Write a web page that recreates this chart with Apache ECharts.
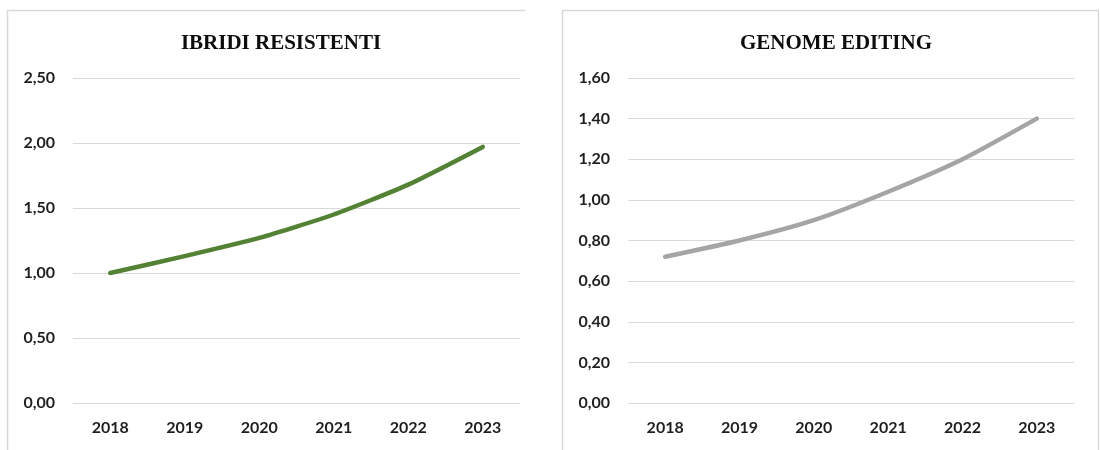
<!DOCTYPE html>
<html>
<head>
<meta charset="utf-8">
<script src="https://cdn.jsdelivr.net/npm/echarts@6/dist/echarts.min.js"></script>
<style>
  html, body { margin: 0; padding: 0; background: #ffffff; }
  #chart { width: 1100px; height: 450px; }
</style>
</head>
<body>
<div id="chart"></div>
<script>
// Years on the horizontal axis of both panels
const years = ['2018', '2019', '2020', '2021', '2022', '2023'];

// Panel titles
const titles = ['IBRIDI RESISTENTI', 'GENOME EDITING'];

// Series values
const ibridiValues = [1.00, 1.13, 1.27, 1.45, 1.68, 1.97];
const genomeValues = [0.72, 0.80, 0.90, 1.04, 1.20, 1.40];

// Value-axis ticks: [min, max, step]
const ibridiTicks = [0, 2.5, 0.5];
const genomeTicks = [0, 1.6, 0.2];

const fmt = v => v.toFixed(2).replace('.', ',');
const labelFont = { fontFamily: 'Lato', fontWeight: 'bold', fontSize: 16, color: '#1f1f1f' };
const gridColor = '#d9d9d9';

function valueAxis(idx, ticks, margin) {
  return {
    type: 'value', gridIndex: idx,
    min: ticks[0], max: ticks[1], interval: ticks[2],
    axisLine: { show: false }, axisTick: { show: false },
    axisLabel: Object.assign({ margin: margin, formatter: fmt }, labelFont),
    splitLine: { lineStyle: { color: gridColor, width: 1 } }
  };
}
function catAxis(idx) {
  return {
    type: 'category', gridIndex: idx, data: years, boundaryGap: true,
    axisLine: { show: false }, axisTick: { show: false },
    axisLabel: Object.assign({ margin: 17 }, labelFont)
  };
}
function lineSeries(idx, values, color) {
  return {
    type: 'line', xAxisIndex: idx, yAxisIndex: idx, data: values,
    smooth: 0.2, symbol: 'none',
    lineStyle: { color: color, width: 4.5, cap: 'round', join: 'round' }
  };
}

const titleStyle = { fontFamily: 'Liberation Serif', fontWeight: 'bold', fontSize: 21, color: '#0d0d0d' };

const chart = echarts.init(document.getElementById('chart'), null, { renderer: 'canvas' });
chart.setOption({
  backgroundColor: '#ffffff',
  animation: false,
  title: [
    { text: titles[0], left: 276, top: 28, textAlign: 'center', textStyle: titleStyle },
    { text: titles[1], left: 831, top: 28, textAlign: 'center', textStyle: titleStyle }
  ],
  grid: [
    { left: 73, top: 78, width: 447, height: 325 },
    { left: 628, top: 78, width: 446, height: 325 }
  ],
  xAxis: [catAxis(0), catAxis(1)],
  yAxis: [valueAxis(0, ibridiTicks, 18), valueAxis(1, genomeTicks, 18)],
  series: [
    lineSeries(0, ibridiValues, '#548235'),
    lineSeries(1, genomeValues, '#a5a5a5')
  ],
  graphic: [
    // panel frames
    { type: 'polyline', silent: true,
      shape: { points: [[7.5, 452], [7.5, 10.5], [525, 10.5]] },
      style: { stroke: gridColor, lineWidth: 1.5, fill: null } },
    { type: 'polyline', silent: true,
      shape: { points: [[562.5, 452], [562.5, 10.5], [1098.5, 10.5], [1098.5, 452]] },
      style: { stroke: gridColor, lineWidth: 1.5, fill: null } }
  ]
});
</script>
</body>
</html>
